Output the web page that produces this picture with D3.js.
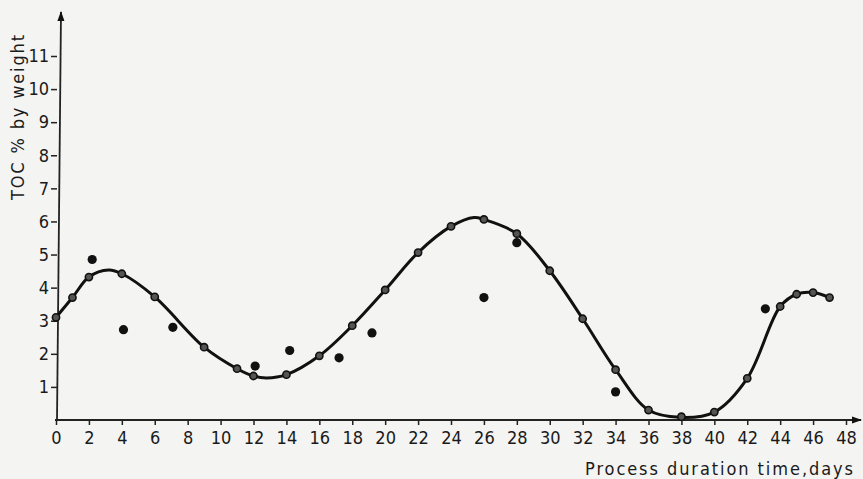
<!DOCTYPE html>
<html>
<head>
<meta charset="utf-8">
<script src="https://cdn.jsdelivr.net/npm/d3@7"></script>
<style>
  body { margin: 0; background: #f4f4f2; }
  svg { display: block; }
  text { font-family: "DejaVu Sans Condensed", "DejaVu Sans", sans-serif; font-stretch: condensed; fill: #1a1a1a; }
</style>
</head>
<body>
<div id="main-container"></div>
<script>
// fitted curve
const curveDays = [0, 1, 2, 3.2, 4, 6, 9, 11, 12, 12.8, 14, 16, 18, 20, 22, 24, 25.4, 26, 28, 30, 32, 34, 36, 37.9, 40, 42, 44, 45, 46, 47];
const curveToc  = [3.1, 3.7, 4.32, 4.53, 4.42, 3.72, 2.2, 1.55, 1.33, 1.27, 1.37, 1.94, 2.85, 3.93, 5.06, 5.85, 6.12, 6.06, 5.63, 4.51, 3.06, 1.52, 0.3, 0.08, 0.24, 1.26, 3.43, 3.8, 3.85, 3.7];

// measured points lying on the curve
const onDays = [0, 1, 2, 4, 6, 9, 11, 12, 14, 16, 18, 20, 22, 24, 26, 28, 30, 32, 34, 36, 38, 40, 42, 44, 45, 46, 47];
const onToc  = [3.1, 3.7, 4.32, 4.42, 3.72, 2.2, 1.55, 1.33, 1.37, 1.94, 2.85, 3.93, 5.06, 5.85, 6.06, 5.63, 4.51, 3.06, 1.52, 0.3, 0.1, 0.24, 1.26, 3.43, 3.8, 3.85, 3.7];

// measured points off the curve
const offDays = [2.2, 4.1, 7.1, 12.1, 14.2, 17.2, 19.2, 26, 28, 34, 43.1];
const offToc  = [4.85, 2.73, 2.8, 1.63, 2.1, 1.88, 2.63, 3.7, 5.36, 0.85, 3.36];

const xTicks = d3.range(0, 49, 2);
const yTicks = d3.range(1, 12);

const width = 863;
const height = 479;

const svg = d3.select('#main-container').append('svg')
  .attr('width', width).attr('height', height)
  .style('background-color', '#f4f4f2');

const xScale = d3.scaleLinear().domain([0, 48]).range([56, 846]);
const yScale = d3.scaleLinear().domain([0, 11]).range([420, 56]);

// axes
const xAxis = d3.axisBottom(xScale).tickValues(xTicks).tickSize(5).tickPadding(6).tickSizeOuter(0);
const yAxis = d3.axisLeft(yScale).tickValues(yTicks).tickSize(6).tickPadding(2).tickSizeOuter(0);

const gx = svg.append('g').attr('transform', 'translate(0,420)').call(xAxis);
const gy = svg.append('g').attr('transform', 'translate(57,0)').call(yAxis);
[gx, gy].forEach(g => {
  g.select('.domain').remove();
  g.selectAll('line').attr('stroke', '#222').attr('stroke-width', 1.5);
  g.selectAll('text').style('font-size', '18px').attr('fill', '#1a1a1a')
    .style('font-family', '"DejaVu Sans Condensed", "DejaVu Sans", sans-serif');
});

// axis lines with arrows
svg.append('defs').append('marker')
  .attr('id', 'arr').attr('viewBox', '0 0 10 10').attr('refX', 9).attr('refY', 5)
  .attr('markerWidth', 10).attr('markerHeight', 10).attr('markerUnits', 'userSpaceOnUse')
  .attr('orient', 'auto')
  .append('path').attr('d', 'M0,1.5 L10,5 L0,8.5 Z').attr('fill', '#111');

svg.append('line').attr('x1', 55).attr('y1', 420).attr('x2', 861).attr('y2', 420)
  .attr('stroke', '#222').attr('stroke-width', 1.8).attr('marker-end', 'url(#arr)');
svg.append('line').attr('x1', 57).attr('y1', 421).attr('x2', 61).attr('y2', 12)
  .attr('stroke', '#222').attr('stroke-width', 1.8).attr('marker-end', 'url(#arr)');

// fitted curve
const line = d3.line()
  .x(i => xScale(curveDays[i]))
  .y(i => yScale(curveToc[i]))
  .curve(d3.curveCatmullRom.alpha(0.5));

svg.append('path').datum(d3.range(curveDays.length))
  .attr('d', line).attr('fill', 'none')
  .attr('stroke', '#111').attr('stroke-width', 3);

// points on the curve
svg.selectAll('circle.on').data(onDays).enter().append('circle')
  .attr('class', 'on')
  .attr('cx', d => xScale(d))
  .attr('cy', (d, i) => yScale(onToc[i]))
  .attr('r', 3.6)
  .attr('fill', '#555').attr('stroke', '#111').attr('stroke-width', 1.6);

// points off the curve
svg.selectAll('circle.off').data(offDays).enter().append('circle')
  .attr('class', 'off')
  .attr('cx', d => xScale(d))
  .attr('cy', (d, i) => yScale(offToc[i]))
  .attr('r', 4.6)
  .attr('fill', '#111');

// titles
svg.append('text').text('TOC % by weight')
  .attr('transform', 'translate(24,200) rotate(-90)')
  .attr('text-anchor', 'start')
  .attr('textLength', 165).attr('lengthAdjust', 'spacing')
  .style('font-size', '18px');

svg.append('text').text('Process duration time,days')
  .attr('x', 585).attr('y', 475)
  .attr('textLength', 268).attr('lengthAdjust', 'spacing')
  .style('font-size', '18px');
</script>
</body>
</html>
